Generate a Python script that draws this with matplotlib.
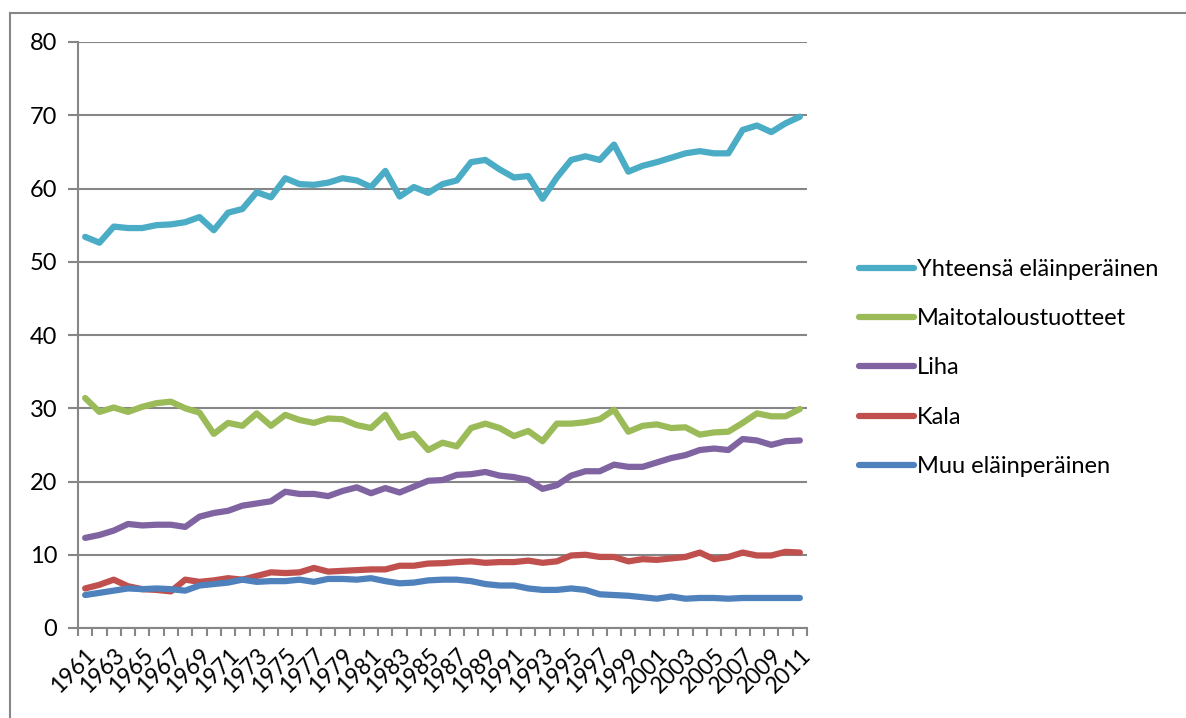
import numpy as np
import matplotlib.pyplot as plt
from matplotlib.lines import Line2D

years = list(range(1961, 2012))

yhteensa = [53.4, 52.6, 54.8, 54.6, 54.6, 55.0, 55.1, 55.4, 56.1, 54.3,
            56.7, 57.2, 59.5, 58.8, 61.4, 60.6, 60.5, 60.8, 61.4, 61.1,
            60.2, 62.4, 58.9, 60.2, 59.4, 60.6, 61.1, 63.6, 63.9, 62.6,
            61.5, 61.7, 58.6, 61.5, 63.9, 64.4, 63.9, 66.0, 62.3, 63.1,
            63.6, 64.2, 64.8, 65.1, 64.8, 64.8, 68.0, 68.6, 67.7, 68.9,
            69.8]
maito = [31.4, 29.5, 30.1, 29.5, 30.2, 30.7, 30.9, 30.0, 29.4, 26.5,
         28.0, 27.6, 29.3, 27.6, 29.1, 28.4, 28.0, 28.6, 28.5, 27.7,
         27.3, 29.1, 26.0, 26.5, 24.3, 25.3, 24.8, 27.3, 27.9, 27.3,
         26.2, 26.9, 25.5, 27.9, 27.9, 28.1, 28.5, 29.8, 26.8, 27.6,
         27.8, 27.3, 27.4, 26.4, 26.7, 26.8, 28.0, 29.3, 28.9, 28.9,
         29.9]
liha = [12.3, 12.7, 13.3, 14.2, 14.0, 14.1, 14.1, 13.8, 15.2, 15.7,
        16.0, 16.7, 17.0, 17.3, 18.6, 18.3, 18.3, 18.0, 18.7, 19.2,
        18.4, 19.1, 18.5, 19.3, 20.1, 20.2, 20.9, 21.0, 21.3, 20.8,
        20.6, 20.2, 19.0, 19.5, 20.8, 21.4, 21.4, 22.3, 22.0, 22.0,
        22.6, 23.2, 23.6, 24.3, 24.5, 24.3, 25.8, 25.6, 25.0, 25.5,
        25.6]
kala = [5.4, 5.9, 6.6, 5.7, 5.3, 5.2, 5.0, 6.6, 6.3, 6.5,
        6.8, 6.6, 7.1, 7.6, 7.5, 7.6, 8.2, 7.7, 7.8, 7.9,
        8.0, 8.0, 8.5, 8.5, 8.8, 8.85, 9.0, 9.1, 8.9, 9.0,
        9.0, 9.2, 8.9, 9.1, 9.9, 10.0, 9.7, 9.7, 9.1, 9.4,
        9.3, 9.5, 9.7, 10.3, 9.4, 9.7, 10.3, 9.9, 9.9, 10.4,
        10.3]
muu = [4.5, 4.8, 5.1, 5.4, 5.3, 5.4, 5.3, 5.1, 5.8, 6.0,
       6.2, 6.6, 6.3, 6.4, 6.4, 6.6, 6.3, 6.7, 6.7, 6.6,
       6.8, 6.4, 6.1, 6.2, 6.5, 6.6, 6.6, 6.4, 6.0, 5.8,
       5.8, 5.4, 5.2, 5.2, 5.4, 5.2, 4.6, 4.5, 4.4, 4.2,
       4.0, 4.3, 4.0, 4.1, 4.1, 4.0, 4.1, 4.1, 4.1, 4.1,
       4.1]

labels = ['Yhteensä eläinperäinen', 'Maitotaloustuotteet', 'Liha', 'Kala', 'Muu eläinperäinen']
series = [yhteensa, maito, liha, kala, muu]
colors = ['#4BACC6', '#9BBB59', '#8064A2', '#C0504D', '#4F81BD']

plt.rcParams['font.family'] = ['Lato', 'DejaVu Sans']

fig = plt.figure(figsize=(11.86, 7.18), dpi=100)
ax = fig.add_axes([78/1186, 1-628/718, (807-78)/1186, (628-42)/718])

x = np.arange(len(years))
for vals, lab, col in zip(series, labels, colors):
    ax.plot(x, vals, color=col, linewidth=4.5, label=lab, solid_capstyle='round', solid_joinstyle='round')

ax.set_xlim(-0.5, len(years) - 0.5)
ax.set_ylim(0, 80)
ax.set_yticks(range(0, 81, 10))
ax.yaxis.grid(True, color='#868686', linewidth=1.5)
ax.set_axisbelow(True)

ax.set_xticks(x[::2])
ax.set_xticklabels([str(y) for y in years[::2]], rotation=45, ha='right', rotation_mode='anchor')
ax.set_xticks(np.arange(-0.5, len(years)), minor=True)
ax.tick_params(axis='x', which='major', length=0, labelsize=16.5, pad=12)
ax.tick_params(axis='x', which='minor', length=6, width=1.5, color='#868686', direction='out')
ax.tick_params(axis='y', length=7, width=1.5, color='#868686', labelsize=17, pad=8)

for s in ['top', 'right']:
    ax.spines[s].set_visible(False)
for s in ['left', 'bottom']:
    ax.spines[s].set_color('#868686')
    ax.spines[s].set_linewidth(1.5)

ax.legend(loc='center left', bbox_to_anchor=(838/1186, 1-368/718), bbox_transform=fig.transFigure,
          frameon=False, fontsize=17, handlelength=2.3, handletextpad=0.15, labelspacing=1.2)

# chart area border
fig.add_artist(Line2D([10/1186, 1], [1-13/718, 1-13/718], color='#868686', linewidth=1.5))
fig.add_artist(Line2D([10/1186, 10/1186], [0, 1-13/718], color='#868686', linewidth=1.5))

plt.savefig('out.png', dpi=100)
plt.close()
